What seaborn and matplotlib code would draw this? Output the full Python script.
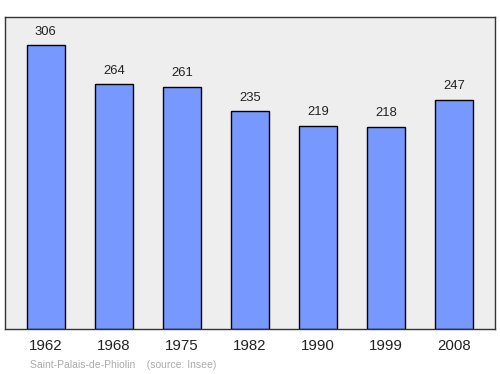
import matplotlib
matplotlib.use("Agg")
import matplotlib.pyplot as plt
import seaborn as sns
import pandas as pd

years = ["1962", "1968", "1975", "1982", "1990", "1999", "2008"]
population = [306, 264, 261, 235, 219, 218, 247]
source_text = "Saint-Palais-de-Phiolin    (source: Insee)"

sns.set_theme(style="white")
plt.rcParams['font.family'] = ['Liberation Sans', 'DejaVu Sans']

df = pd.DataFrame({"year": years, "pop": population})

fig = plt.figure(figsize=(5, 3.74), dpi=100)
ax = fig.add_axes([0.01, 45 / 374, 0.98, 312 / 374])
ax.set_facecolor("#eeeeee")
sns.barplot(data=df, x="year", y="pop", color="#7799ff", saturation=1,
            edgecolor="black", linewidth=1, width=0.56, ax=ax)
ax.set_xlim(-0.6, 6.6)
ax.set_ylim(0, max(population) * 1.1)
for i, v in enumerate(population):
    ax.annotate(str(v), (i, v), xytext=(0, 5.5), textcoords="offset points",
                ha="center", va="bottom", fontsize=9.4, color="#222222")
ax.set_yticks([])
ax.set_xlabel("")
ax.set_ylabel("")
ax.tick_params(axis="x", length=0, pad=7, labelsize=10.8, colors="#222222")
for s in ax.spines.values():
    s.set_color("#333333")
    s.set_linewidth(1)
fig.text(30 / 500, 1 - 365 / 374, source_text, fontsize=7.5, color="#aaaaaa",
         ha="left", va="center")
fig.savefig("out.png", dpi=100)
